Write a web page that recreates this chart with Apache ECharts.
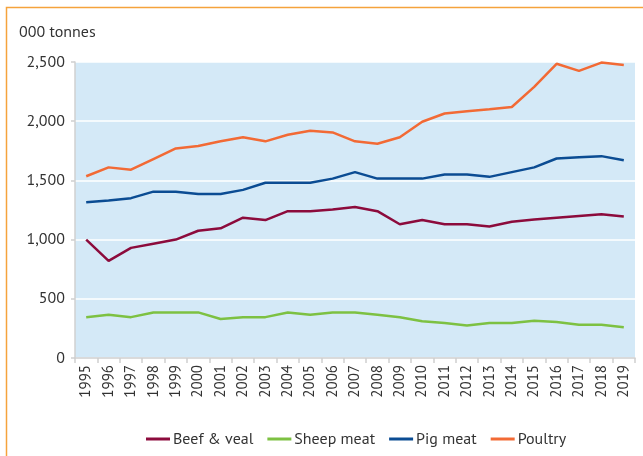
<!DOCTYPE html>
<html>
<head>
<meta charset="utf-8">
<script src="https://cdn.jsdelivr.net/npm/echarts@6/dist/echarts.min.js"></script>
<style>
  html, body { margin: 0; padding: 0; background: #fff; }
  #chart { width: 643px; height: 456px; }
</style>
</head>
<body>
<div id="chart"></div>
<script>
// years on the x axis
var years = ['1995','1996','1997','1998','1999','2000','2001','2002','2003','2004','2005','2006',
    '2007','2008','2009','2010','2011','2012','2013','2014','2015','2016','2017','2018','2019'];

// '000 tonnes
var beefVeal = [1000, 820, 930, 965, 1000, 1075, 1095, 1185, 1165, 1240, 1240, 1255,
    1275, 1240, 1130, 1165, 1130, 1130, 1110, 1150, 1170, 1185, 1200, 1215, 1195];
var sheepMeat = [345, 365, 345, 385, 385, 385, 330, 345, 345, 385, 365, 385,
    385, 365, 345, 310, 295, 275, 295, 295, 315, 305, 280, 280, 260];
var pigMeat = [1315, 1330, 1350, 1405, 1405, 1385, 1385, 1420, 1480, 1480, 1480, 1515,
    1570, 1515, 1515, 1515, 1550, 1550, 1530, 1570, 1610, 1685, 1695, 1705, 1670];
var poultry = [1535, 1610, 1590, 1680, 1770, 1790, 1830, 1865, 1830, 1885, 1920, 1905,
    1830, 1810, 1865, 1995, 2065, 2085, 2100, 2120, 2290, 2485, 2425, 2495, 2475];

var seriesNames = ['Beef & veal', 'Sheep meat', 'Pig meat', 'Poultry'];
var seriesColors = ['#8c0b3c', '#7dc142', '#0b4c93', '#f26a35'];
var seriesData = [beefVeal, sheepMeat, pigMeat, poultry];

var font = '"PT Sans", "Noto Sans", sans-serif';

var chart = echarts.init(document.getElementById('chart'));

var series = seriesNames.map(function (name, i) {
    return {
        name: name,
        type: 'line',
        data: seriesData[i],
        symbol: 'none',
        lineStyle: { width: 2.5, color: seriesColors[i] },
        itemStyle: { color: seriesColors[i] }
    };
});

chart.setOption({
    animation: false,
    textStyle: { fontFamily: font },
    graphic: [
        {
            type: 'polyline',
            shape: { points: [[6.5, 460], [6.5, 7.5], [650, 7.5]] },
            style: { stroke: '#f5a33c', lineWidth: 1.5, fill: null },
            silent: true
        },
        {
            type: 'text',
            left: 19,
            top: 24,
            style: { text: '000 tonnes', font: '16px ' + font, fill: '#333' }
        }
    ],
    grid: {
        left: 75,
        right: 8,
        top: 62,
        bottom: 98,
        show: true,
        backgroundColor: '#d4e9f7',
        borderWidth: 0
    },
    legend: {
        left: 141,
        top: 426,
        itemWidth: 24,
        itemHeight: 3,
        itemGap: 14,
        icon: 'rect',
        textStyle: { fontSize: 16, color: '#333', padding: [0, 0, 0, -2] },
        data: seriesNames
    },
    xAxis: {
        type: 'category',
        data: years,
        boundaryGap: true,
        axisLine: { lineStyle: { color: '#d0d0d0', width: 1.5 } },
        axisTick: { show: true, length: 5, lineStyle: { color: '#d0d0d0', width: 1.5 } },
        axisLabel: { rotate: 90, interval: 0, fontSize: 15, color: '#333', margin: 7 },
        splitLine: { show: false }
    },
    yAxis: {
        type: 'value',
        min: 0,
        max: 2500,
        interval: 500,
        axisLine: { show: true, lineStyle: { color: '#d0d0d0', width: 1.5 } },
        axisTick: { show: true, length: 4, lineStyle: { color: '#d0d0d0', width: 1.5 } },
        axisLabel: {
            fontSize: 16,
            color: '#333',
            margin: 10,
            formatter: function (v) { return v.toLocaleString('en-US'); }
        },
        splitLine: { show: true, lineStyle: { color: '#ffffff', width: 1.5 } }
    },
    series: series
});
</script>
</body>
</html>
